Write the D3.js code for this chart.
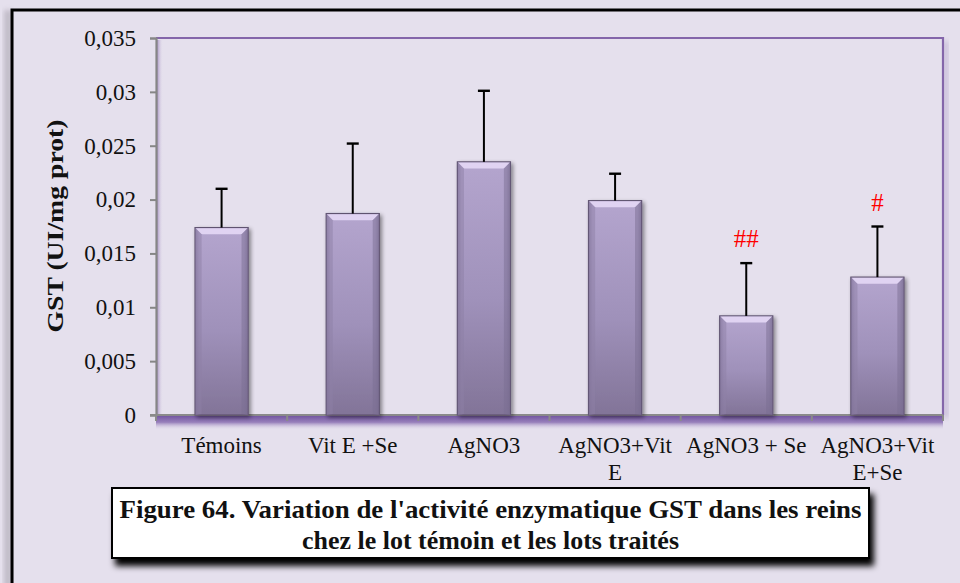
<!DOCTYPE html>
<html>
<head>
<meta charset="utf-8">
<script src="https://cdn.jsdelivr.net/npm/d3@7/dist/d3.min.js"></script>
<style>
  html, body { margin: 0; padding: 0; background: #e5e0ed; }
  svg { display: block; font-family: "Liberation Serif", "Times New Roman", serif; }
</style>
</head>
<body>
<svg id="chart" width="960" height="583"></svg>
<script>
// Mean GST activity per group and standard deviation
const groups = ["Témoins", "Vit E +Se", "AgNO3", "AgNO3+Vit E", "AgNO3 + Se", "AgNO3+Vit E+Se"];
const labelLines = [["Témoins"], ["Vit E +Se"], ["AgNO3"], ["AgNO3+Vit", "E"], ["AgNO3 + Se"], ["AgNO3+Vit", "E+Se"]];
const gstMean = [0.0174, 0.0187, 0.0235, 0.0199, 0.0092, 0.0128];
const gstSd = [0.0036, 0.0065, 0.0066, 0.0025, 0.0049, 0.0047];
const signif = ["", "", "", "", "##", "#"];
const yTicks = [0, 0.005, 0.01, 0.015, 0.02, 0.025, 0.03, 0.035];
const yTitle = "GST (UI/mg prot)";
const caption = ["Figure 64. Variation de l'activité enzymatique GST dans les reins",
                 "chez le lot témoin et les lots traités"];

const svg = d3.select("#chart");
const W = 960, H = 583;
const plot = { left: 156, right: 943, top: 38, bottom: 415 };
const serif = "Liberation Serif, Times New Roman, serif";

const defs = svg.append("defs");

// soft shadows
const fShadow = defs.append("filter").attr("id", "softShadow")
  .attr("x", "-30%").attr("y", "-30%").attr("width", "160%").attr("height", "160%");
fShadow.append("feGaussianBlur").attr("in", "SourceAlpha").attr("stdDeviation", 2.2).attr("result", "b");
fShadow.append("feOffset").attr("in", "b").attr("dx", 2).attr("dy", 2).attr("result", "o");
fShadow.append("feComponentTransfer").attr("in", "o").attr("result", "s")
  .append("feFuncA").attr("type", "linear").attr("slope", 0.45);
const fm = fShadow.append("feMerge");
fm.append("feMergeNode").attr("in", "s");
fm.append("feMergeNode").attr("in", "SourceGraphic");

const fBoxShadow = defs.append("filter").attr("id", "boxShadow")
  .attr("x", "-10%").attr("y", "-30%").attr("width", "120%").attr("height", "170%");
fBoxShadow.append("feGaussianBlur").attr("in", "SourceAlpha").attr("stdDeviation", 3).attr("result", "b");
fBoxShadow.append("feOffset").attr("in", "b").attr("dx", 4).attr("dy", 7).attr("result", "o");
fBoxShadow.append("feComponentTransfer").attr("in", "o").attr("result", "s")
  .append("feFuncA").attr("type", "linear").attr("slope", 1);
const fm2 = fBoxShadow.append("feMerge");
fm2.append("feMergeNode").attr("in", "s");
fm2.append("feMergeNode").attr("in", "SourceGraphic");

const fBlur = defs.append("filter").attr("id", "blur3")
  .attr("x", "-20%").attr("y", "-50%").attr("width", "140%").attr("height", "200%");
fBlur.append("feGaussianBlur").attr("stdDeviation", 2.5);

// bar gradients
const gBar = defs.append("linearGradient").attr("id", "barFace").attr("x1", 0).attr("y1", 0).attr("x2", 0).attr("y2", 1);
gBar.append("stop").attr("offset", "0%").attr("stop-color", "#b4a5ce");
gBar.append("stop").attr("offset", "55%").attr("stop-color", "#9f91ba");
gBar.append("stop").attr("offset", "100%").attr("stop-color", "#827498");
const gSide = defs.append("linearGradient").attr("id", "barSide").attr("x1", 0).attr("y1", 0).attr("x2", 1).attr("y2", 0);
gSide.append("stop").attr("offset", "0%").attr("stop-color", "#6f6287").attr("stop-opacity", 0.55);
gSide.append("stop").attr("offset", "8%").attr("stop-color", "#6f6287").attr("stop-opacity", 0);
gSide.append("stop").attr("offset", "92%").attr("stop-color", "#6f6287").attr("stop-opacity", 0);
gSide.append("stop").attr("offset", "100%").attr("stop-color", "#6f6287").attr("stop-opacity", 0.55);
const gFloor = defs.append("linearGradient").attr("id", "floor").attr("x1", 0).attr("y1", 0).attr("x2", 0).attr("y2", 1);
gFloor.append("stop").attr("offset", "0%").attr("stop-color", "#7457a2");
gFloor.append("stop").attr("offset", "45%").attr("stop-color", "#9880bb");
gFloor.append("stop").attr("offset", "100%").attr("stop-color", "#e5e0ed").attr("stop-opacity", 0);
const gAxisShade = defs.append("linearGradient").attr("id", "axisShade").attr("x1", 0).attr("y1", 0).attr("x2", 1).attr("y2", 0);
gAxisShade.append("stop").attr("offset", "0%").attr("stop-color", "#a893c4");
gAxisShade.append("stop").attr("offset", "100%").attr("stop-color", "#e5e0ed").attr("stop-opacity", 0);

// background + outer frame
svg.append("rect").attr("width", W).attr("height", H).attr("fill", "#e5e0ed");
svg.append("rect").attr("x", 4).attr("y", 10).attr("width", 8).attr("height", H)
  .attr("fill", "#a8a3ae").attr("filter", "url(#blur3)").attr("opacity", 0.6);
svg.append("path").attr("d", `M12,${H} L12,10 L${W},10`)
  .attr("fill", "none").attr("stroke", "#000").attr("stroke-width", 3);

// scales
const x = d3.scaleBand().domain(groups).range([plot.left, plot.right]).paddingInner(0.595).paddingOuter(0.2975);
const y = d3.scaleLinear().domain([0, 0.035]).range([plot.bottom, plot.top]);

// plot frame (top and right), with a soft shadow on the right
svg.append("rect").attr("x", plot.right + 1).attr("y", plot.top + 3).attr("width", 4).attr("height", plot.bottom - plot.top)
  .attr("fill", "#b5a6cc").attr("filter", "url(#blur3)").attr("opacity", 0.7);
svg.append("path").attr("d", `M${plot.left},${plot.top} L${plot.right},${plot.top} L${plot.right},${plot.bottom}`)
  .attr("fill", "none").attr("stroke", "#8466aa").attr("stroke-width", 2.2);

// floor below the category axis
svg.append("rect").attr("x", plot.left).attr("y", plot.bottom + 1).attr("width", plot.right - plot.left).attr("height", 14)
  .attr("fill", "url(#floor)");
// shade to the right of the value axis
svg.append("rect").attr("x", plot.left + 1).attr("y", plot.top + 2).attr("width", 6).attr("height", plot.bottom - plot.top - 2)
  .attr("fill", "url(#axisShade)");

// y axis
const yAxis = d3.axisLeft(y).tickValues(yTicks).tickSize(6).tickPadding(14)
  .tickFormat(d => d === 0 ? "0" : d3.format(".3~f")(d).replace(".", ","));
const gy = svg.append("g").attr("transform", `translate(${plot.left},0)`).call(yAxis);
gy.select(".domain").attr("stroke", "#868686").attr("stroke-width", 2.2);
gy.selectAll(".tick line").attr("stroke", "#868686").attr("stroke-width", 2);
gy.selectAll(".tick text").attr("font-family", serif).attr("font-size", 23).attr("fill", "#111");

// x axis (ticks at band boundaries)
svg.append("line").attr("x1", plot.left - 6).attr("x2", plot.right).attr("y1", plot.bottom).attr("y2", plot.bottom)
  .attr("stroke", "#8a8a8a").attr("stroke-width", 2);
const bounds = groups.map(g => x(g) - x.step() * x.paddingInner() / 2).concat([plot.right]);
svg.append("g").selectAll("line").data(bounds).join("line")
  .attr("x1", d => d).attr("x2", d => d).attr("y1", plot.bottom).attr("y2", plot.bottom + 6)
  .attr("stroke", "#8a8a8a").attr("stroke-width", 2);

// category labels
const xl = svg.append("g").attr("font-family", serif).attr("font-size", 23).attr("fill", "#111").attr("text-anchor", "middle");
groups.forEach((g, i) => {
  const cx = x(g) + x.bandwidth() / 2;
  labelLines[i].forEach((ln, j) => {
    xl.append("text").attr("x", cx).attr("y", 453 + j * 27).text(ln);
  });
});

// bars
const data = groups.map((g, i) => ({ g, v: gstMean[i], sd: gstSd[i], s: signif[i] }));
const bars = svg.append("g").selectAll("g.bar").data(data).join("g").attr("class", "bar");
const bev = 6;
bars.append("rect")
  .attr("x", d => x(d.g)).attr("y", d => y(d.v))
  .attr("width", x.bandwidth()).attr("height", d => y(0) - y(d.v))
  .attr("fill", "url(#barFace)").attr("stroke", "#5f536f").attr("stroke-width", 1.2)
  .attr("filter", "url(#softShadow)");
bars.append("rect")
  .attr("x", d => x(d.g)).attr("y", d => y(d.v))
  .attr("width", x.bandwidth()).attr("height", d => y(0) - y(d.v))
  .attr("fill", "url(#barSide)");
// top bevel
bars.append("path")
  .attr("d", d => {
    const x0 = x(d.g) + 0.6, x1 = x(d.g) + x.bandwidth() - 0.6, t = y(d.v) + 0.6;
    return `M${x0},${t} L${x1},${t} L${x1 - bev},${t + bev} L${x0 + bev},${t + bev} Z`;
  })
  .attr("fill", "#e0d3f2");
bars.append("path")
  .attr("d", d => {
    const x0 = x(d.g) + 0.6, t = y(d.v) + 0.6;
    return `M${x0},${t} L${x0 + bev},${t + bev} L${x0 + bev},${y(0) - 1} L${x0},${y(0)} Z`;
  })
  .attr("fill", "#8e80a6").attr("opacity", 0.5);
bars.append("path")
  .attr("d", d => {
    const x1 = x(d.g) + x.bandwidth() - 0.6, t = y(d.v) + 0.6;
    return `M${x1},${t} L${x1 - bev},${t + bev} L${x1 - bev},${y(0) - 1} L${x1},${y(0)} Z`;
  })
  .attr("fill", "#7a6d92").attr("opacity", 0.5);

// error bars (upper only)
const capW = 12;
bars.append("line")
  .attr("x1", d => x(d.g) + x.bandwidth() / 2).attr("x2", d => x(d.g) + x.bandwidth() / 2)
  .attr("y1", d => y(d.v)).attr("y2", d => y(d.v + d.sd))
  .attr("stroke", "#000").attr("stroke-width", 2);
bars.append("line")
  .attr("x1", d => x(d.g) + x.bandwidth() / 2 - capW / 2).attr("x2", d => x(d.g) + x.bandwidth() / 2 + capW / 2)
  .attr("y1", d => y(d.v + d.sd)).attr("y2", d => y(d.v + d.sd))
  .attr("stroke", "#000").attr("stroke-width", 2.4);

// significance marks
bars.filter(d => d.s).append("text")
  .attr("x", d => x(d.g) + x.bandwidth() / 2).attr("y", d => y(d.v + d.sd) - 16)
  .attr("text-anchor", "middle").attr("font-family", serif).attr("font-size", 25).attr("fill", "#ff0000").text(d => d.s);

// y axis title
svg.append("text")
  .attr("transform", "translate(63,226) rotate(-90)")
  .attr("text-anchor", "middle").attr("font-family", serif).attr("font-weight", "bold").attr("font-size", 24).attr("fill", "#111")
  .attr("textLength", 213).attr("lengthAdjust", "spacingAndGlyphs")
  .text(yTitle);

// caption box
svg.append("rect").attr("x", 112).attr("y", 488).attr("width", 757).attr("height", 70)
  .attr("fill", "#fff").attr("stroke", "#000").attr("stroke-width", 2)
  .attr("filter", "url(#boxShadow)");
const cap = svg.append("g").attr("font-family", serif).attr("font-weight", "bold").attr("font-size", 25).attr("fill", "#111").attr("text-anchor", "middle");
cap.append("text").attr("x", 490.5).attr("y", 518).attr("textLength", 742).attr("lengthAdjust", "spacingAndGlyphs").text(caption[0]);
cap.append("text").attr("x", 490.5).attr("y", 549).attr("textLength", 377).attr("lengthAdjust", "spacingAndGlyphs").text(caption[1]);
</script>
</body>
</html>
